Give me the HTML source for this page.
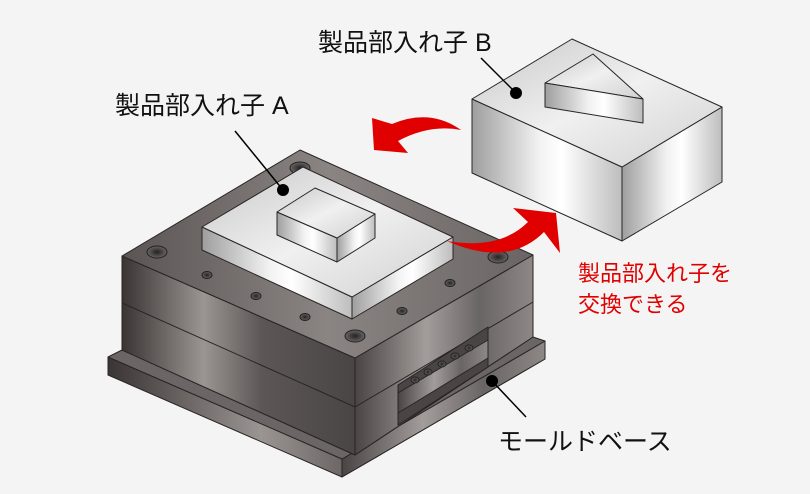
<!DOCTYPE html>
<html><head><meta charset="utf-8"><style>
html,body{margin:0;padding:0;background:#f4f4f4;}
svg{display:block;}
text{font-family:"Liberation Sans","Noto Sans CJK JP",sans-serif;}
</style></head><body>
<svg width="810" height="494" viewBox="0 0 810 494" xmlns="http://www.w3.org/2000/svg">
<defs>
<linearGradient id="dk" x1="0" x2="1" y1="0" y2="0">
<stop offset="0" stop-color="#3a3434"/><stop offset="0.35" stop-color="#9a9492"/><stop offset="0.6" stop-color="#5c5756"/><stop offset="1" stop-color="#4a4545"/></linearGradient>
<linearGradient id="dk2" x1="0" x2="1" y1="0" y2="0">
<stop offset="0" stop-color="#4a4444"/><stop offset="0.4" stop-color="#a29d9b"/><stop offset="0.7" stop-color="#6a6565"/><stop offset="1" stop-color="#8d8886"/></linearGradient>
<linearGradient id="dkt" x1="0" x2="1" y1="0" y2="0">
<stop offset="0" stop-color="#5a5454"/><stop offset="0.5" stop-color="#8a8482"/><stop offset="1" stop-color="#6a6464"/></linearGradient>
<linearGradient id="lt" x1="0" x2="1" y1="0" y2="0">
<stop offset="0" stop-color="#9e9e9e"/><stop offset="0.45" stop-color="#f2f2f2"/><stop offset="0.6" stop-color="#ffffff"/><stop offset="1" stop-color="#bdbdbd"/></linearGradient>
<linearGradient id="ltt" x1="0" x2="1" y1="0" y2="1">
<stop offset="0" stop-color="#c8c8c8"/><stop offset="0.5" stop-color="#f0f0f0"/><stop offset="1" stop-color="#d0d0d0"/></linearGradient>
<radialGradient id="hole"><stop offset="0" stop-color="#222"/><stop offset="1" stop-color="#6b6464"/></radialGradient>
</defs>
<g stroke="#2a2525" stroke-width="1" stroke-linejoin="round">
<!-- base plate -->
<polygon points="108,357 342,459 545,341 545,359 342,477 108,375" fill="url(#dk)"/>
<polygon points="342,459 342,477 545,359 545,341" fill="url(#dk2)"/>
<polygon points="108,357 122,350 355,455 533,337 545,341 342,459" fill="#6b6565"/>
<!-- body left face -->
<polygon points="122,256 355,358 355,455 122,350" fill="url(#dk)"/>
<line x1="122" y1="303" x2="355" y2="407"/>
<!-- body right face -->
<polygon points="355,358 533,255 533,337 355,455" fill="url(#dk2)"/>
<line x1="355" y1="407" x2="533" y2="302"/>
<!-- opening -->
<polygon points="398,385 488,327 488,367 398,425" fill="#4a4444"/>
<polygon points="398,393 488,340 488,358 398,413" fill="url(#dk2)"/>
<line x1="488" y1="327" x2="488" y2="367"/>
<!-- top face -->
<polygon points="300,150 533,255 355,358 122,256" fill="url(#dkt)"/>
<!-- holes -->
<g fill="url(#hole)" stroke="#222">
<ellipse cx="157" cy="252" rx="10" ry="6"/><ellipse cx="300" cy="168" rx="10" ry="6"/>
<ellipse cx="355" cy="336" rx="10" ry="6"/><ellipse cx="498" cy="257" rx="10" ry="6"/>
<ellipse cx="207" cy="275" rx="5" ry="3.5"/><ellipse cx="256" cy="296" rx="5" ry="3.5"/>
<ellipse cx="305" cy="317" rx="5" ry="3.5"/><ellipse cx="402" cy="311" rx="5" ry="3.5"/>
<ellipse cx="450" cy="283" rx="5" ry="3.5"/>
<ellipse cx="469" cy="348" rx="4" ry="3"/><ellipse cx="455" cy="356" rx="4" ry="3"/>
<ellipse cx="442" cy="364" rx="4" ry="3"/><ellipse cx="428" cy="372" rx="4" ry="3"/>
<ellipse cx="415" cy="380" rx="4" ry="3"/>
</g>
<!-- insert A plate -->
<polygon points="202,227 352,297 352,319 202,250" fill="url(#lt)"/>
<polygon points="352,297 453,237 453,259 352,319" fill="url(#lt)"/>
<polygon points="303,167 453,237 352,297 202,227" fill="url(#ltt)"/>
<!-- small block -->
<polygon points="277,212 337,238 337,262 277,235" fill="url(#lt)"/>
<polygon points="337,238 375,214 375,238 337,262" fill="url(#lt)"/>
<polygon points="315,188 375,214 337,238 277,212" fill="url(#ltt)"/>
<!-- insert B -->
<polygon points="472,99 622,167 622,241 472,173" fill="url(#lt)"/>
<polygon points="622,167 722,107 722,182 622,241" fill="url(#lt)"/>
<polygon points="572,39 722,107 622,167 472,99" fill="url(#ltt)"/>
<polygon points="593,54 643,99 545,83" fill="url(#ltt)"/>
<polygon points="545,83 643,99 643,123 545,107" fill="url(#lt)"/>
</g>
<!-- red arrows -->
<path d="M461,130 Q430,108 392,124 L372,118 L374,150 L408,153 L398,141 Q430,124 461,130 Z" fill="#e00000"/>
<path d="M447,241 Q500,250 528,222 L513,208 L556,213 L560,253 L544,232 Q508,268 447,241 Z" fill="#e00000"/>
<!-- leaders -->
<g stroke="#000" stroke-width="1.5">
<line x1="235" y1="131" x2="283" y2="190"/><line x1="481" y1="58" x2="516" y2="93"/>
<line x1="492" y1="381" x2="526" y2="417"/></g>
<circle cx="283" cy="190" r="6"/><circle cx="516" cy="93" r="6"/><circle cx="492" cy="381" r="6"/>
<!-- labels -->
<text x="318" y="51" font-size="25" fill="#111">製品部入れ子 B</text>
<text x="115" y="114" font-size="25" fill="#111">製品部入れ子 A</text>
<text x="578" y="281" font-size="22" fill="#e00000">製品部入れ子を</text>
<text x="578" y="312" font-size="22" fill="#e00000">交換できる</text>
<text x="498" y="450" font-size="25" fill="#111">モールドベース</text>
</svg>
</body></html>
